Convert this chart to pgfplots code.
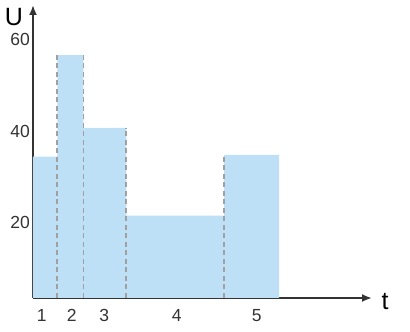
\documentclass[border=0pt]{standalone}
\usepackage{pgfplots}
\pgfplotsset{compat=1.18}
\usepackage{fontspec}
\setmainfont{Liberation Sans}
\usetikzlibrary{arrows.meta}
\definecolor{barblue}{RGB}{190,224,246}
\definecolor{dashgray}{RGB}{160,160,160}
\definecolor{axisdark}{RGB}{51,51,51}
\begin{document}
\begin{tikzpicture}
\path[use as bounding box] (-33pt,-34pt) rectangle (377pt,298pt);
\begin{axis}[
  at={(0,0)}, anchor=origin,
  x=1pt, y=4.575pt,
  xmin=0, xmax=339, ymin=3.6, ymax=67.65,
  axis x line=bottom, axis y line=left,
  axis line style={axisdark, line width=1.9pt, -{Latex[length=10pt,width=8pt]}},
  major tick length=0pt,
  ytick={20,40,60},
  xtick={8.7,38.7,71.3,143.7,223.7},
  xticklabels={1,2,3,4,5},
  /pgf/number format/assume math mode=true,
  ticklabel style={font=\fontsize{17.5}{17.5}\selectfont, text=axisdark, inner sep=0pt},
  yticklabel style={anchor=east, xshift=-3pt},
  xticklabel style={anchor=north, yshift=-11pt},
  clip=false,
]
\addplot[fill=barblue, draw=none] coordinates {
  (0,3.6) (0,34.5) (24.3,34.5) (24.3,56.7) (50.5,56.7) (50.5,40.8)
  (93.3,40.8) (93.3,21.6) (191,21.6) (191,34.9) (246,34.9) (246,3.6)
} -- cycle;
\addplot[dashgray, line width=1.6pt, dash pattern=on 5pt off 3.5pt] coordinates {(24.3,3.6) (24.3,56.7)};
\addplot[dashgray, line width=1.6pt, dash pattern=on 5pt off 3.5pt] coordinates {(50.5,3.6) (50.5,56.7)};
\addplot[dashgray, line width=1.6pt, dash pattern=on 5pt off 3.5pt] coordinates {(93.3,3.6) (93.3,40.8)};
\addplot[dashgray, line width=1.6pt, dash pattern=on 5pt off 3.5pt] coordinates {(191,3.6) (191,34.9)};
\end{axis}
\node[font=\fontsize{25}{25}\selectfont, inner sep=0pt] at (-19pt,281pt) {U};
\node[font=\fontsize{25}{25}\selectfont, inner sep=0pt] at (352pt,-4pt) {t};
\end{tikzpicture}
\end{document}
